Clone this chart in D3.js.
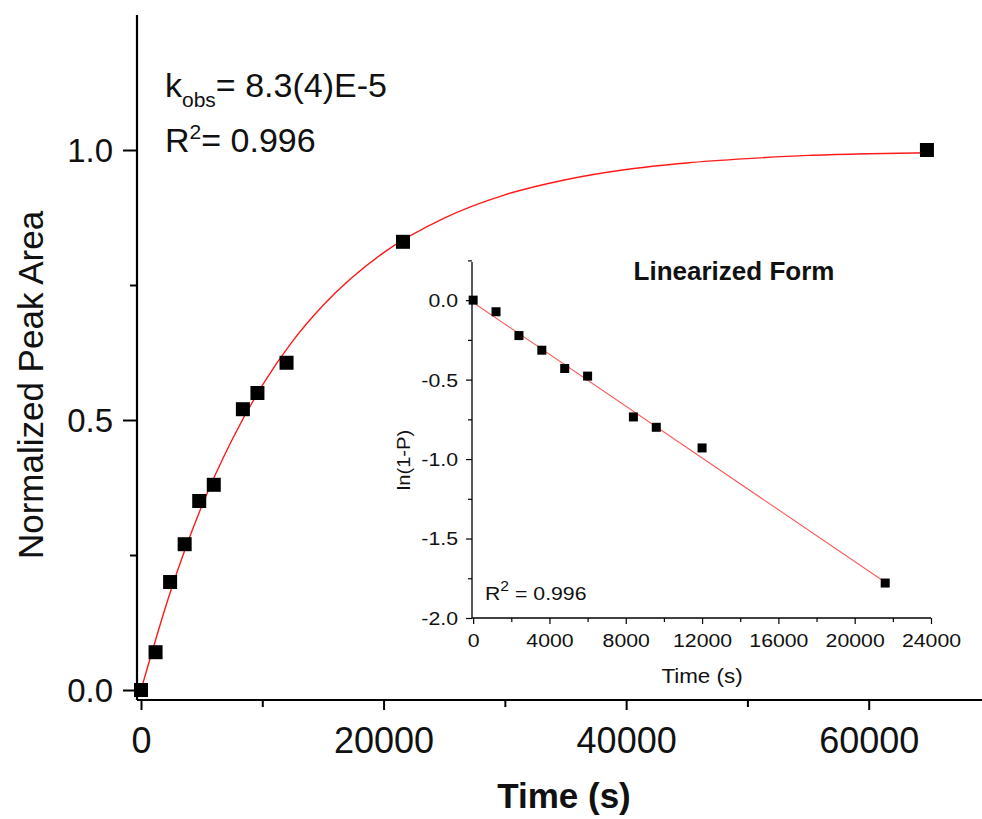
<!DOCTYPE html>
<html><head><meta charset="utf-8">
<script src="https://cdn.jsdelivr.net/npm/d3@7"></script>
<style>
body{margin:0;background:#fff;}
svg{display:block;font-family:"Liberation Sans",Arial,sans-serif;}
</style></head>
<body>
<svg id="chart" width="982" height="819"></svg>
<script>
// ---- Main data ----
const times = [0, 1200, 2400, 3600, 4800, 6000, 8400, 9600, 12000, 21600, 64800];
const peakArea = [0.0, 0.07, 0.20, 0.27, 0.35, 0.38, 0.52, 0.55, 0.606, 0.83, 1.0];
// exponential fit curve
const fitTimes = [0, 2500, 5000, 7500, 10000, 12500, 15000, 20000, 25000, 30000, 35000, 40000, 45000, 50000, 55000, 60000, 65000];
const fitValues = [0, 0.187, 0.340, 0.463, 0.564, 0.646, 0.712, 0.810, 0.874, 0.917, 0.945, 0.964, 0.976, 0.984, 0.990, 0.993, 0.995];
const mainXTicks = [0, 20000, 40000, 60000];
const mainXMinor = [10000, 30000, 50000];
const mainYTicks = [0.0, 0.5, 1.0];
const mainYMinor = [0.25, 0.75];

// ---- Inset data ----
const insetTimes = [0, 1200, 2400, 3600, 4800, 6000, 8400, 9600, 12000, 21600];
const lnValues = [0.0, -0.073, -0.223, -0.315, -0.43, -0.478, -0.735, -0.80, -0.93, -1.78];
const insetFitTimes = [0, 21600];
const insetFitValues = [-0.015, -1.775];
const insetXTicks = [0, 4000, 8000, 12000, 16000, 20000, 24000];
const insetXMinor = [2000, 6000, 10000, 14000, 18000, 22000];
const insetYTicks = [0.0, -0.5, -1.0, -1.5, -2.0];
const insetYMinor = [0.25, -0.25, -0.75, -1.25, -1.75];

const svg = d3.select("#chart");
const INK = "#111";
const fmt1 = d => d.toFixed(1);

// ===== Main chart =====
const x = d3.scaleLinear().domain([-330, 70000]).range([137, 990]);
const y = d3.scaleLinear().domain([-0.0185, 1.25]).range([700, 15]);

const gx = svg.append("g").attr("transform", `translate(0,${y.range()[0]})`);
gx.call(d3.axisBottom(x).tickValues(mainXTicks).tickSize(10).tickFormat(d3.format("d")));
gx.call(g => g.append("g").call(d3.axisBottom(x).tickValues(mainXMinor).tickSize(7).tickFormat("")).select(".domain").remove());
gx.selectAll(".domain").attr("d", `M${x.range()[0]},0H982`);
const gy = svg.append("g").attr("transform", `translate(${x.range()[0]},0)`);
gy.call(d3.axisLeft(y).tickValues(mainYTicks).tickSize(14).tickFormat(fmt1));
gy.call(g => g.append("g").call(d3.axisLeft(y).tickValues(mainYMinor).tickSize(7).tickFormat("")).select(".domain").remove());
gy.selectAll(".domain").attr("d", `M0,${y.range()[1]}V${y.range()[0]}`);

[gx, gy].forEach(g => {
  g.selectAll(".domain").attr("stroke", "#000").attr("stroke-width", 2.2);
  g.selectAll(".tick line").attr("stroke", "#000").attr("stroke-width", 2);
});
gx.selectAll(".tick text").attr("font-size", 36).attr("fill", INK).attr("dy", 0).attr("y", 53);
gy.selectAll(".tick text").attr("font-size", 33).attr("fill", INK).attr("x", -24).attr("dy", "0.36em");

svg.append("path")
  .datum(fitTimes.map((t, i) => [t, fitValues[i]]))
  .attr("fill", "none").attr("stroke", "#ff1a1a").attr("stroke-width", 1.4)
  .attr("d", d3.line().x(d => x(d[0])).y(d => y(d[1])).curve(d3.curveMonotoneX));

const ms = 14;
svg.append("g").selectAll("rect").data(times).join("rect")
  .attr("x", (d) => x(d) - ms / 2)
  .attr("y", (d, i) => y(peakArea[i]) - ms / 2)
  .attr("width", ms).attr("height", ms).attr("fill", "#000");

svg.append("text").attr("x", 34).attr("y", 385)
  .attr("transform", "rotate(-90,34,385)").attr("text-anchor", "middle").attr("dominant-baseline", "middle")
  .attr("font-size", 35).attr("fill", INK).text("Normalized Peak Area");
svg.append("text").attr("x", 564).attr("y", 808).attr("text-anchor", "middle")
  .attr("font-size", 35).attr("font-weight", "bold").attr("fill", INK).text("Time (s)");

const t1 = svg.append("text").attr("x", 165).attr("y", 97).attr("font-size", 34).attr("fill", INK);
t1.append("tspan").text("k");
t1.append("tspan").attr("font-size", 21).attr("dy", 10).text("obs");
t1.append("tspan").attr("dy", -10).text("= 8.3(4)E-5");
const t2 = svg.append("text").attr("x", 165).attr("y", 152).attr("font-size", 34).attr("fill", INK);
t2.append("tspan").text("R");
t2.append("tspan").attr("font-size", 21).attr("dy", -13).text("2");
t2.append("tspan").attr("dy", 13).text("= 0.996");

// ===== Inset =====
const ix = d3.scaleLinear().domain([-60, 24000]).range([472, 931]);
const iy = d3.scaleLinear().domain([-2.0, 0.24]).range([618, 262]);
const HS = 1.12; // horizontal stretch of inset text

const igx = svg.append("g").attr("transform", `translate(0,${iy.range()[0]})`);
igx.call(d3.axisBottom(ix).tickValues(insetXTicks).tickSize(6).tickFormat(d3.format("d")));
igx.call(g => g.append("g").call(d3.axisBottom(ix).tickValues(insetXMinor).tickSize(4).tickFormat("")).select(".domain").remove());
igx.selectAll(".domain").attr("d", `M${ix.range()[0]},0H${ix.range()[1]}`);
const igy = svg.append("g").attr("transform", `translate(${ix.range()[0]},0)`);
igy.call(d3.axisLeft(iy).tickValues(insetYTicks).tickSize(6).tickFormat(fmt1));
igy.call(g => g.append("g").call(d3.axisLeft(iy).tickValues(insetYMinor).tickSize(4).tickFormat("")).select(".domain").remove());
igy.selectAll(".domain").attr("d", `M0,${iy.range()[1]}V${iy.range()[0]}`);
[igx, igy].forEach(g => {
  g.selectAll(".domain").attr("stroke", "#000").attr("stroke-width", 1.3);
  g.selectAll(".tick line").attr("stroke", "#000").attr("stroke-width", 1.2);
  g.selectAll(".tick text").attr("font-size", 19).attr("fill", INK).attr("transform", `scale(${HS},1)`);
});
igx.selectAll(".tick text").attr("y", 29).attr("dy", 0);
igy.selectAll(".tick text").attr("x", -14 / HS).attr("dy", "0.34em");

svg.append("path")
  .datum(insetFitTimes.map((t, i) => [t, insetFitValues[i]]))
  .attr("fill", "none").attr("stroke", "#ff5a5a").attr("stroke-width", 1.1)
  .attr("d", d3.line().x(d => ix(d[0])).y(d => iy(d[1])));

const ims = 9;
svg.append("g").selectAll("rect").data(insetTimes).join("rect")
  .attr("x", d => ix(d) - ims / 2)
  .attr("y", (d, i) => iy(lnValues[i]) - ims / 2)
  .attr("width", ims).attr("height", ims).attr("fill", "#000");

svg.append("text").attr("transform", "translate(734,280)").attr("text-anchor", "middle")
  .attr("font-size", 26).attr("font-weight", "bold").attr("fill", INK).text("Linearized Form");
svg.append("text").attr("transform", `translate(405,460) rotate(-90) scale(${HS},1)`)
  .attr("text-anchor", "middle").attr("dominant-baseline", "middle")
  .attr("font-size", 18).attr("fill", INK).text("ln(1-P)");
svg.append("text").attr("transform", `translate(702,683) scale(${HS},1)`).attr("text-anchor", "middle")
  .attr("font-size", 20).attr("fill", INK).text("Time (s)");
const t3 = svg.append("text").attr("transform", `translate(485,600) scale(${HS},1)`).attr("font-size", 19).attr("fill", INK);
t3.append("tspan").text("R");
t3.append("tspan").attr("font-size", 14).attr("dy", -9).text("2");
t3.append("tspan").attr("dy", 9).text(" = 0.996");
</script>
</body></html>
